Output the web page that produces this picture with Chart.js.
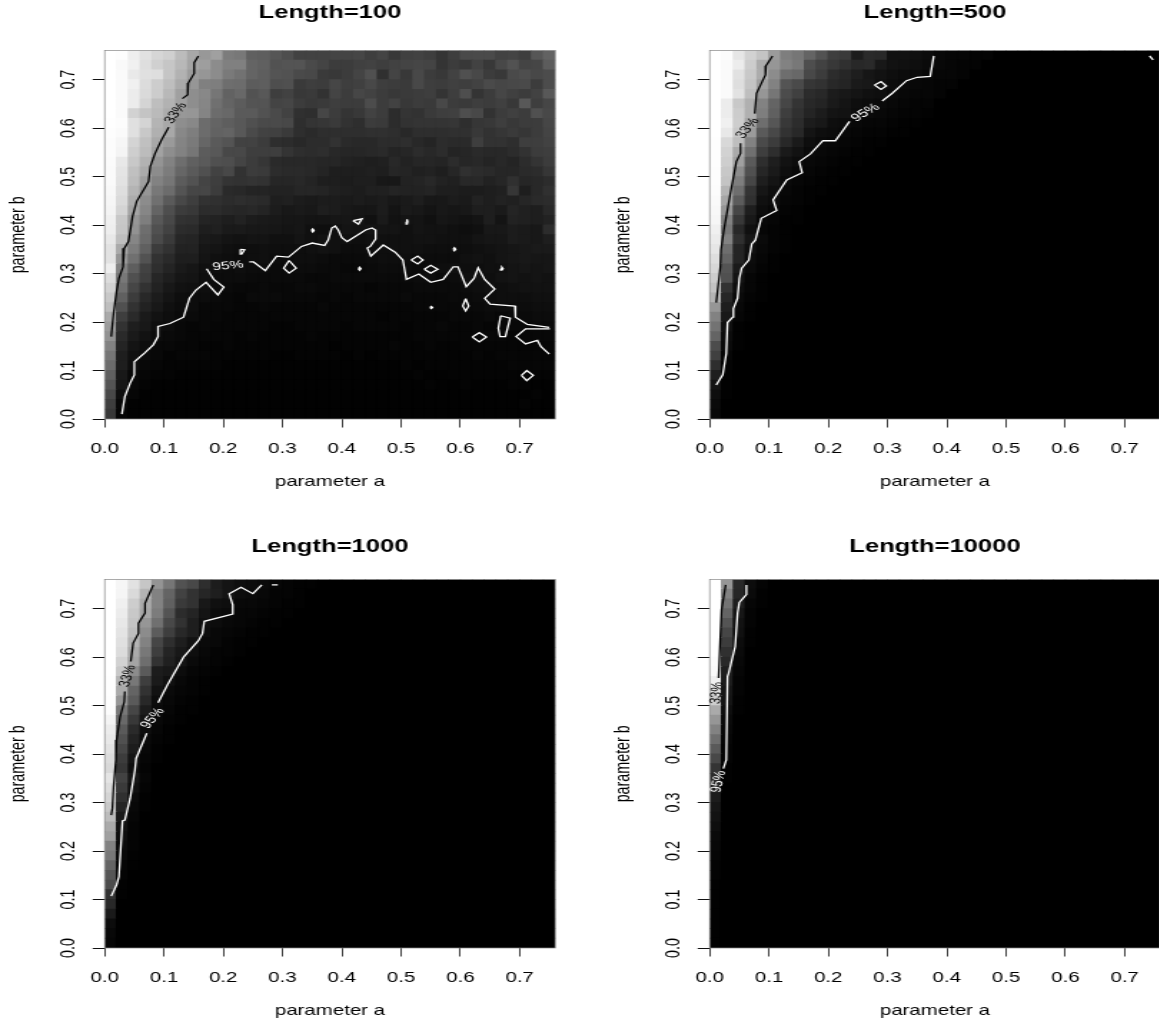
<!DOCTYPE html>
<html>
<head>
<meta charset="utf-8">
<script src="https://cdn.jsdelivr.net/npm/chart.js@4"></script>
<style>
body { margin: 0; background: #fff; overflow: hidden; }
/* the reference is stretched sideways, text included */
canvas { position: absolute; transform: scaleX(1.43); transform-origin: 0 0; }
</style>
</head>
<body>
<canvas id="c1" width="405" height="500" style="left:0;top:0"></canvas>
<canvas id="c2" width="405" height="500" style="left:604.8px;top:0"></canvas>
<canvas id="c3" width="405" height="500" style="left:0;top:529px"></canvas>
<canvas id="c4" width="405" height="500" style="left:604.8px;top:529px"></canvas>
<script>
const tickValues = [0, 0.1, 0.2, 0.3, 0.4, 0.5, 0.6, 0.7];
const tickLabels = ["0.0", "0.1", "0.2", "0.3", "0.4", "0.5", "0.6", "0.7"];
const titles = ["Length=100", "Length=500", "Length=1000", "Length=10000"];

// grey level per cell, rows from the top (b=0.75) down, columns from a=0.01; cells left out are 0
const grid100 = [
[255,253,238,225,214,208,188,168,152,160,124,120,96,94,86,78,66,66,66,68,68,70,62,68,56,64,66,62,52,62,74,74,74,66,68,62,86,98],
[255,249,240,222,208,198,184,164,158,140,128,128,100,96,82,84,84,74,68,60,60,64,66,62,66,68,70,68,52,60,56,66,56,72,82,68,70,92],
[255,250,233,224,222,197,178,156,150,140,122,114,100,94,84,82,74,72,58,56,60,68,80,48,68,56,72,60,56,66,80,72,60,56,74,78,72,76],
[255,250,240,220,205,190,170,150,128,126,110,108,92,94,78,80,58,62,60,70,62,64,72,62,60,58,72,62,60,64,62,66,74,70,72,74,60,76],
[255,250,236,218,204,184,160,142,136,118,98,104,82,88,62,66,56,58,50,68,60,70,66,60,56,58,60,62,52,62,78,52,60,70,64,60,66,88],
[255,250,236,212,190,178,160,142,134,112,100,92,84,84,68,70,60,56,58,62,60,60,76,60,66,56,60,58,72,60,58,62,60,64,56,88,62,70],
[255,250,210,196,186,172,152,150,132,108,104,90,90,82,74,66,48,46,70,60,52,56,66,60,44,52,50,58,62,64,78,72,50,60,64,60,80,72],
[254,252,224,212,180,168,142,136,108,100,94,88,80,74,74,72,46,52,54,58,50,46,60,58,44,50,52,52,52,54,46,54,56,62,56,60,60,70],
[253,250,224,200,176,168,136,126,108,98,100,88,74,66,64,58,46,42,46,46,46,46,48,48,46,40,46,46,46,48,48,56,50,54,58,54,60,68],
[252,246,212,192,168,154,132,122,102,90,84,66,66,60,46,44,40,44,44,50,42,40,40,44,44,46,40,36,44,42,42,62,50,50,46,62,62,66],
[252,244,206,188,162,142,130,118,92,88,72,72,62,62,62,52,46,44,46,40,38,38,40,42,36,38,44,40,44,36,38,42,40,40,44,50,60,62],
[251,232,200,178,148,130,110,96,90,80,78,68,60,54,42,40,40,40,38,38,34,32,30,32,40,34,38,38,36,44,38,40,36,40,36,44,52,60],
[250,228,192,170,140,124,102,90,80,66,72,50,60,58,44,42,42,40,36,30,30,30,32,30,38,36,32,34,30,38,48,44,42,38,38,42,44,54],
[250,226,188,158,130,118,92,82,68,62,52,50,52,50,38,38,40,36,30,30,28,30,30,24,24,34,36,40,34,32,40,40,34,38,48,38,40,44],
[248,222,180,150,120,108,84,70,70,60,42,40,36,36,34,34,38,38,36,32,30,28,32,32,36,34,34,36,30,30,28,28,30,32,54,30,40,48],
[246,218,172,140,112,90,72,62,50,48,44,46,44,42,30,32,28,26,28,28,26,28,26,28,24,26,30,24,24,28,26,34,30,34,32,38,42,44],
[244,212,164,134,100,78,60,56,44,44,40,38,40,36,28,24,26,24,30,28,24,22,22,28,20,26,24,20,24,22,24,30,30,26,36,32,30,40],
[240,200,150,126,88,72,50,48,36,34,30,34,28,26,24,22,22,20,20,22,22,20,16,26,18,20,20,16,22,20,18,20,30,20,34,32,30,34],
[238,198,146,110,80,66,44,42,30,32,26,26,24,24,22,20,22,16,14,16,20,18,20,20,20,16,20,18,18,16,14,16,24,24,28,26,24,44],
[232,190,134,106,74,58,38,36,26,24,20,18,20,20,16,16,20,16,18,16,16,14,16,16,16,16,18,18,16,16,16,20,22,22,28,26,24,30],
[226,170,124,96,60,50,34,34,22,20,16,14,14,16,14,14,14,16,18,16,12,12,14,14,16,16,16,14,14,14,14,16,18,20,22,24,26,26],
[226,150,112,82,50,42,30,30,20,16,14,12,14,16,12,12,14,14,12,10,10,10,12,14,14,14,12,12,12,12,16,18,16,20,22,24,22,22],
[238,130,94,66,46,36,26,22,16,14,12,14,12,12,10,10,12,12,10,10,8,8,10,12,12,12,10,12,14,16,14,14,16,16,20,22,20,22],
[220,120,80,62,38,30,22,20,14,12,12,12,10,10,10,10,10,8,8,10,10,10,10,10,10,10,12,14,10,12,16,16,14,18,20,18,20,18],
[210,110,70,50,34,24,18,16,14,12,10,8,8,10,8,8,10,10,8,8,8,8,6,8,8,8,10,10,10,10,12,14,16,14,16,18,18,18],
[200,96,60,40,28,20,14,12,12,10,8,6,10,10,10,8,8,8,6,8,6,8,8,8,8,10,8,8,8,10,10,12,12,14,14,14,16,16],
[190,80,50,34,24,16,12,12,8,8,8,6,6,8,6,6,6,6,8,6,6,6,6,6,6,6,8,8,8,8,10,10,12,12,12,12,14,14],
[170,62,42,26,18,14,10,10,8,8,6,6,6,6,6,6,6,6,6,6,6,6,6,4,6,6,6,6,6,8,8,8,10,8,10,10,12,12],
[156,50,30,24,14,12,8,6,8,6,6,6,6,6,4,4,6,6,6,6,4,6,6,6,6,4,6,6,8,6,6,8,6,8,8,8,10,10],
[146,42,26,18,12,10,8,6,6,6,6,4,6,4,4,4,4,6,4,4,4,4,4,4,4,4,6,6,6,6,6,8,8,8,6,8,8,8],
[130,36,20,14,8,8,6,6,4,4,6,4,4,4,4,4,4,4,4,2,4,4,4,4,6,4,4,6,4,4,6,6,6,6,6,6,6,6],
[118,30,16,10,8,4,6,6,6,4,4,4,4,4,2,2,4,4,4,4,2,4,2,4,4,4,4,4,4,4,4,6,4,6,6,6,6,6],
[108,30,14,8,6,4,4,4,4,4,2,2,2,2,2,2,2,2,2,2,2,2,2,2,2,4,2,4,4,4,4,4,4,4,6,6,6,6],
[96,24,8,6,4,4,2,2,2,2,2,2,2,2,2,2,2,2,2,2,2,2,2,2,2,2,4,2,2,4,4,4,4,4,4,4,4,4],
[84,22,8,4,2,2,2,2,2,2,2,2,2,2,2,2,2,2,2,2,2,2,2,2,2,2,2,4,2,2,4,2,2,2,4,4,2,2],
[72,14,6,2,2,2,2,2,2,2,2,2,2,2,2,2,2,2,2,2,2,2,2,2,2,2,2,2,2,2,2,2,2,2,2,2,4,2],
[62,8,2,2,2,2,2,2,2,2,2,2,2,2,2,2,2,2,2,2,2,2,2,2,2,2,2,2,2,2,2,2,2,2,2,4,2,2],
[56,6,2,2,2,2,2,2,2,2,2,2,2,2,2,2,2,2,2,2,2,2,2,2,2,2,2,2,2,2,2,2,2,2,2,2,2,2]
];
const grid500 = [
[255,252,230,210,196,155,126,118,100,82,62,58,28,42,40,16,18,16,12,8,6,6,4,4],
[255,250,236,205,172,150,130,120,78,66,56,48,40,42,24,18,16,14,10,8,6,4,4],
[255,250,225,200,172,140,110,104,72,60,44,38,30,22,18,14,12,12,8,6,6,4],
[255,250,222,196,160,130,84,74,54,50,40,36,26,24,16,12,10,8,6,4,4],
[255,250,226,190,150,118,76,64,44,40,28,24,20,16,14,10,8,6,6,4],
[255,236,200,176,130,100,70,52,40,36,26,20,14,12,10,8,6,4,4],
[255,236,204,176,126,96,62,48,36,28,20,18,12,10,8,6,4,4,2],
[255,240,205,166,110,86,56,44,28,24,14,12,8,6,6,4,2,2],
[255,232,200,155,90,72,50,40,20,14,12,8,6,4,4,2,2],
[254,216,190,130,74,60,40,26,14,10,8,6,4,2,2],
[254,210,170,112,62,46,26,18,10,8,6,4,2,2],
[254,206,160,90,46,30,18,12,8,6,4,2,2],
[253,200,140,80,38,26,14,8,6,4,2,2],
[253,196,126,70,30,20,10,6,4,2,2],
[252,180,110,52,22,14,8,4,2,2],
[250,166,92,48,16,12,6,4,2],
[248,150,70,30,12,8,4,2],
[246,130,56,24,8,6,2,2],
[240,120,40,16,6,4,2],
[235,130,48,22,10,4,2],
[230,110,36,16,8,4,2],
[222,100,36,12,6,2],
[215,84,26,10,4,2],
[205,80,20,6,2],
[195,50,14,6,2],
[180,38,10,4,2],
[150,30,8,2],
[130,24,6,2],
[115,16,2],
[100,12,2],
[76,10,2],
[64,6],
[46,4],
[30,2],
[20,2],
[14,2],
[10],
[8]
];
const grid1000 = [
[255,246,226,198,148,118,82,72,46,28,20,14,12,10,6,4,2,2],
[255,245,218,180,130,100,66,50,38,30,20,12,10,8,4,4,2],
[255,240,205,170,130,96,58,50,24,16,14,8,8,6,4,2,2],
[255,236,200,166,124,84,44,36,20,12,10,6,6,4,2,2],
[255,232,196,150,112,72,50,30,16,12,8,6,4,2,2],
[255,228,190,140,92,62,40,30,14,8,6,4,2,2],
[255,224,180,130,70,46,30,18,10,8,4,2,2],
[255,220,170,120,62,36,24,14,8,4,4,2],
[255,210,164,110,50,32,20,10,6,4,2],
[255,200,140,90,28,24,12,6,4,2],
[254,180,120,62,26,16,8,4,2],
[254,170,100,50,18,10,6,4,2],
[253,150,90,40,12,8,4,2],
[252,120,70,28,10,6,2,2],
[244,105,56,20,8,4,2],
[236,90,42,14,6,2],
[232,80,34,10,4,2],
[226,70,28,8,2],
[220,60,20,6,2],
[216,54,14,4],
[228,66,22,6],
[220,58,16,4],
[212,48,10,2],
[200,36,8,2],
[188,26,6],
[170,18,4],
[160,14,4],
[130,10,4],
[120,8,2],
[100,6,2],
[86,4],
[76,2],
[50,2],
[40],
[26],
[12],
[8],
[6]
];
const grid10000 = [
[255,150,40,12,4],[255,130,38,10,2],[255,115,30,6,2],[255,100,22,4],[255,84,18,4],
[255,70,16,2],[255,60,12,2],[255,48,10],[252,40,8],[250,30,6],
[240,28,4],[225,22,4],[205,20,2],[170,14,2],[150,10],
[130,8],[110,6],[90,4],[72,4],[52,2],
[44,2],[34],[28],[22],[18],
[14],[10],[8],[6],[4],
[4],[2],[2],[2],[2],[2],[2],[2]
];

// contour pieces as [a, b] pairs
const lines33 = [
  [
    [[0.158,0.749],[0.151,0.735],[0.151,0.713],[0.141,0.693],[0.140,0.669],[0.131,0.661]],
    [[0.108,0.602],[0.096,0.576],[0.085,0.548],[0.077,0.521],[0.074,0.490],[0.054,0.449],[0.047,0.418],[0.043,0.387],[0.040,0.366],[0.033,0.352],[0.031,0.314],[0.024,0.290],[0.020,0.263],[0.015,0.218],[0.011,0.170]]
  ],
  [
    [[0.106,0.749],[0.095,0.729],[0.094,0.710],[0.079,0.672],[0.076,0.630]],
    [[0.052,0.569],[0.052,0.548],[0.045,0.531],[0.035,0.466],[0.024,0.390],[0.019,0.349],[0.018,0.314],[0.011,0.240]]
  ],
  [
    [[0.082,0.749],[0.068,0.711],[0.068,0.691],[0.057,0.670],[0.057,0.649],[0.048,0.629],[0.044,0.591]],
    [[0.034,0.529],[0.033,0.508],[0.026,0.477],[0.020,0.429],[0.019,0.388],[0.015,0.333],[0.013,0.288],[0.011,0.274]]
  ],
  [
    [[0.027,0.749],[0.020,0.698],[0.018,0.643],[0.015,0.557]]
  ]
];
const lines95 = [
  [
    [[0.029,0.010],[0.034,0.046],[0.043,0.074],[0.050,0.091],[0.050,0.118],[0.068,0.137],[0.082,0.153],[0.090,0.170],[0.090,0.191],[0.110,0.197],[0.133,0.210],[0.143,0.249],[0.154,0.266],[0.171,0.282],[0.191,0.256],[0.201,0.272],[0.184,0.288],[0.172,0.310]],
    [[0.244,0.324],[0.251,0.324],[0.271,0.306],[0.290,0.336],[0.310,0.334],[0.332,0.356],[0.350,0.363],[0.371,0.358],[0.377,0.369],[0.383,0.394],[0.389,0.398],[0.394,0.390],[0.400,0.374],[0.409,0.366],[0.440,0.390],[0.451,0.394],[0.457,0.390],[0.457,0.371],[0.448,0.356],[0.443,0.353],[0.449,0.336],[0.470,0.359],[0.490,0.344],[0.503,0.328],[0.509,0.288],[0.530,0.299],[0.550,0.282],[0.571,0.288],[0.588,0.314],[0.596,0.314],[0.610,0.273],[0.623,0.290],[0.630,0.312],[0.641,0.288],[0.658,0.268],[0.641,0.249],[0.650,0.237],[0.692,0.233],[0.693,0.210],[0.713,0.195],[0.750,0.189]],
    [[0.751,0.186],[0.710,0.186],[0.694,0.170],[0.710,0.155],[0.730,0.162],[0.736,0.149],[0.750,0.134]],
    [[0.229,0.350],[0.236,0.349],[0.231,0.340],[0.229,0.350]],
    [[0.311,0.327],[0.323,0.311],[0.311,0.301],[0.302,0.311],[0.311,0.327]],
    [[0.349,0.389],[0.351,0.392],[0.353,0.389],[0.351,0.386],[0.349,0.389]],
    [[0.419,0.409],[0.434,0.413],[0.428,0.402],[0.419,0.409]],
    [[0.509,0.407],[0.510,0.412],[0.511,0.407],[0.510,0.402],[0.509,0.407]],
    [[0.428,0.310],[0.430,0.313],[0.432,0.310],[0.430,0.307],[0.428,0.310]],
    [[0.588,0.350],[0.590,0.353],[0.592,0.350],[0.590,0.347],[0.588,0.350]],
    [[0.668,0.310],[0.670,0.313],[0.672,0.310],[0.670,0.307],[0.668,0.310]],
    [[0.549,0.230],[0.551,0.232],[0.553,0.230],[0.551,0.228],[0.549,0.230]],
    [[0.517,0.328],[0.528,0.336],[0.537,0.328],[0.528,0.320],[0.517,0.328]],
    [[0.539,0.309],[0.550,0.317],[0.562,0.309],[0.550,0.301],[0.539,0.309]],
    [[0.609,0.248],[0.614,0.233],[0.609,0.223],[0.604,0.233],[0.609,0.248]],
    [[0.620,0.169],[0.632,0.178],[0.644,0.169],[0.632,0.159],[0.620,0.169]],
    [[0.668,0.213],[0.684,0.208],[0.676,0.170],[0.667,0.170],[0.664,0.187],[0.668,0.213]],
    [[0.703,0.090],[0.712,0.100],[0.723,0.090],[0.712,0.079],[0.703,0.090]]
  ],
  [
    [[0.011,0.070],[0.022,0.091],[0.028,0.135],[0.030,0.199],[0.039,0.210],[0.040,0.228],[0.047,0.249],[0.050,0.290],[0.054,0.311],[0.066,0.328],[0.071,0.361],[0.077,0.369],[0.087,0.414],[0.113,0.430],[0.107,0.452],[0.130,0.493],[0.156,0.508],[0.151,0.531],[0.170,0.547],[0.191,0.574],[0.212,0.574],[0.236,0.614]],
    [[0.291,0.656],[0.308,0.672],[0.332,0.698],[0.350,0.705],[0.372,0.707],[0.378,0.749]],
    [[0.278,0.689],[0.289,0.696],[0.298,0.687],[0.289,0.680],[0.278,0.689]],
    [[0.742,0.749],[0.748,0.741]]
  ],
  [
    [[0.011,0.107],[0.020,0.130],[0.024,0.147],[0.030,0.262],[0.034,0.264],[0.043,0.309],[0.051,0.367],[0.053,0.391],[0.071,0.443]],
    [[0.090,0.506],[0.106,0.543],[0.133,0.600],[0.158,0.634],[0.165,0.649],[0.168,0.674],[0.216,0.689],[0.216,0.708],[0.210,0.731],[0.230,0.744],[0.250,0.731],[0.265,0.749]],
    [[0.282,0.749],[0.292,0.749]]
  ],
  [
    [[0.023,0.370],[0.028,0.388],[0.030,0.560],[0.032,0.567],[0.043,0.622],[0.047,0.691],[0.050,0.713],[0.062,0.729],[0.062,0.749]]
  ]
];
// contour labels: text, a, b, rotation in degrees
const labels33 = [["33%",0.120,0.631,-62],["33%",0.064,0.600,-59],["33%",0.039,0.561,-77],["33%",0.012,0.526,-85]];
const labels95 = [["95%",0.208,0.316,-8],["95%",0.263,0.632,-39],["95%",0.081,0.474,-58],["95%",0.015,0.343,-80]];
const grids = [grid100, grid500, grid1000, grid10000];
const titleTops = [2, 2, 7, 7];

Chart.defaults.font.family = "'Liberation Sans', Arial, sans-serif";
Chart.defaults.color = "#000";

const cellStep = 0.02;
const topEdge = 0.76;

const panelExtras = {
  id: "panelExtras",
  afterDatasetsDraw(chart, args, opts) {
    const { ctx, chartArea: a, scales: { x, y } } = chart;
    ctx.save();
    ctx.strokeStyle = "#888";
    ctx.lineWidth = 0.7;
    ctx.strokeRect(a.left, a.top, a.width, a.height);
    ctx.font = "11px 'Liberation Sans'";
    ctx.textAlign = "center";
    ctx.textBaseline = "middle";
    opts.labels.forEach(function (l) {
      ctx.save();
      ctx.translate(x.getPixelForValue(l.item[1]), y.getPixelForValue(l.item[2]));
      ctx.rotate(l.item[3] * Math.PI / 180);
      ctx.fillStyle = l.color;
      ctx.fillText(l.item[0], 0, 0);
      ctx.restore();
    });
    ctx.restore();
  }
};

function lineSet(points, color) {
  return {
    type: "line",
    data: points.map(p => ({ x: p[0], y: p[1] })),
    borderColor: color,
    borderWidth: 1.3,
    pointRadius: 0,
    tension: 0,
    fill: false
  };
}

function cellSet(grid) {
  const data = [];
  const colors = [];
  grid.forEach(function (row, r) {
    for (let c = 0; c < 38; c++) {
      const v = row[c] || 0;
      data.push({ x: cellStep * c + cellStep / 2, y: [topEdge - cellStep * (r + 1), topEdge - cellStep * r] });
      colors.push("rgb(" + v + "," + v + "," + v + ")");
    }
  });
  return { type: "bar", data: data, backgroundColor: colors, barThickness: 8.29, grouped: false, inflateAmount: 0.5 };
}

function drawPanel(id, i) {
  const sets = [];
  lines33[i].forEach(l => sets.push(lineSet(l, "#000")));
  lines95[i].forEach(l => sets.push(lineSet(l, "#fff")));
  sets.push(cellSet(grids[i]));
  new Chart(document.getElementById(id), {
    type: "bar",
    data: { datasets: sets },
    plugins: [panelExtras],
    options: {
      responsive: false,
      devicePixelRatio: 1,
      animation: false,
      events: [],
      layout: { padding: { right: 16.75 } },
      plugins: {
        legend: { display: false },
        tooltip: { enabled: false },
        title: {
          display: true,
          fullSize: false,
          text: titles[i],
          font: { size: 17.9, weight: "bold", lineHeight: 1.2 },
          padding: { top: titleTops[i], bottom: 50.6 - 21.48 - titleTops[i] }
        },
        panelExtras: {
          labels: [{ item: labels33[i], color: "#000" }, { item: labels95[i], color: "#fff" }]
        }
      },
      scales: {
        x: {
          type: "linear",
          offset: false,
          min: 0,
          max: 0.76,
          afterBuildTicks: s => { s.ticks = tickValues.map(v => ({ value: v })); },
          afterFit: s => { s.height = 81; },
          border: { display: false },
          grid: { offset: false, drawOnChartArea: false, tickLength: 8.5, tickWidth: 0.8, tickColor: "#111" },
          ticks: { autoSkip: false, maxRotation: 0, padding: 13, font: { size: 14.3 }, callback: (v, n) => tickLabels[n] },
          title: { display: true, text: "parameter a", font: { size: 14.3, lineHeight: 1.2 }, padding: { top: 0, bottom: 9.5 } }
        },
        y: {
          min: 0,
          max: 0.76,
          afterBuildTicks: s => { s.ticks = tickValues.map(v => ({ value: v })); },
          afterFit: s => { s.width = 73.2; },
          border: { display: false },
          grid: { drawOnChartArea: false, tickLength: 8.4, tickWidth: 1, tickColor: "#111" },
          ticks: { autoSkip: false, minRotation: 90, maxRotation: 90, crossAlign: "center", padding: 7, font: { size: 14.3 }, callback: (v, n) => tickLabels[n] },
          title: { display: true, text: "parameter b", font: { size: 14.3, lineHeight: 1.2 }, padding: { top: 4.6, bottom: 0 } }
        }
      }
    }
  });
}

["c1", "c2", "c3", "c4"].forEach(drawPanel);
</script>
</body>
</html>
